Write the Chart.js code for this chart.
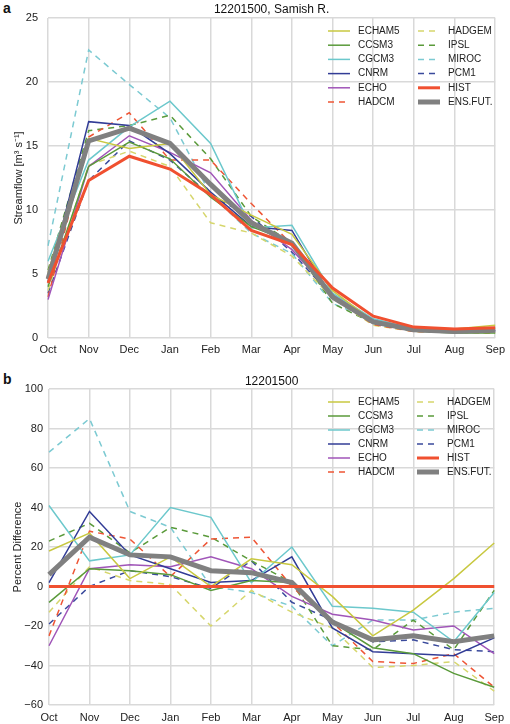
<!DOCTYPE html>
<html>
<head>
<meta charset="utf-8">
<script src="https://cdn.jsdelivr.net/npm/chart.js@4"></script>
<style>
  body { margin: 0; background: #fff; width: 510px; height: 724px; position: relative; overflow: hidden; }
  canvas { position: absolute; left: 0; }
  .tag { position: absolute; font: bold 14px "Liberation Sans", Arial, sans-serif; color: #111; }
</style>
</head>
<body>
<div class="tag" style="left:3px;top:0px">a</div>
<div class="tag" style="left:3px;top:371px">b</div>
<canvas id="flow" width="510" height="360" style="top:0"></canvas>
<canvas id="pct" width="510" height="362" style="top:362px"></canvas>
<script>
const months = ["Oct", "Nov", "Dec", "Jan", "Feb", "Mar", "Apr", "May", "Jun", "Jul", "Aug", "Sep"];
const models = ["ECHAM5", "CCSM3", "CGCM3", "CNRM", "ECHO", "HADCM", "HADGEM", "IPSL", "MIROC", "PCM1", "HIST", "ENS.FUT."];

// streamflow, m3/s (panel a)
const flowECHAM5 = [5.1, 15.6, 14.8, 15.2, 11.2, 9.6, 8.1, 3.7, 1.3, 0.75, 0.7, 1.0];
const flowCCSM3  = [4.0, 13.4, 15.3, 14.0, 11.0, 8.7, 7.5, 3.2, 1.2, 0.55, 0.4, 0.4];
const flowCGCM3  = [6.0, 13.9, 16.5, 18.5, 15.2, 8.6, 8.8, 3.5, 1.5, 0.75, 0.5, 0.8];
const flowCNRM   = [4.4, 16.9, 16.6, 14.4, 11.4, 8.7, 8.4, 3.1, 1.15, 0.55, 0.45, 0.6];
const flowECHO   = [3.0, 13.4, 15.8, 14.5, 12.9, 9.2, 6.9, 3.4, 1.4, 0.65, 0.55, 0.55];
const flowHADCM  = [3.2, 15.7, 17.6, 13.9, 13.9, 10.5, 7.3, 3.2, 1.05, 0.5, 0.45, 0.4];
const flowHADGEM = [3.7, 13.5, 14.6, 13.4, 9.0, 8.2, 6.4, 3.1, 1.0, 0.5, 0.45, 0.4];
const flowIPSL   = [5.3, 16.2, 16.6, 17.4, 14.0, 9.5, 7.4, 2.7, 1.15, 0.7, 0.45, 0.8];
const flowMIROC  = [7.2, 22.5, 19.8, 17.2, 11.2, 8.2, 6.6, 2.7, 1.4, 0.7, 0.6, 0.7];
const flowPCM1   = [3.5, 12.3, 15.4, 13.9, 11.1, 9.5, 6.7, 3.2, 1.2, 0.6, 0.5, 0.55];
const flowHIST   = [4.3, 12.3, 14.2, 13.2, 11.2, 8.4, 7.3, 3.9, 1.7, 0.85, 0.7, 0.8];
const flowENS    = [4.6, 15.4, 16.4, 15.2, 12.0, 9.0, 7.4, 3.2, 1.25, 0.65, 0.5, 0.6];

// percent difference from HIST (panel b)
const pctECHAM5 = [18, 27, 4, 15, 0, 14, 11, -5, -25, -12, 4, 22];
const pctCCSM3  = [-8, 9, 8, 6, -2, 3, 2, -18, -31, -34, -44, -51];
const pctCGCM3  = [41, 13, 16, 40, 35, 2, 20, -10, -11, -13, -28, -3];
const pctCNRM   = [2, 38, 16, 9, 2, 3, 15, -21, -33, -34, -35, -26];
const pctECHO   = [-30, 9, 11, 10, 15, 9, -5, -14, -17, -22, -20, -34];
const pctHADCM  = [-25, 28, 24, 5, 24, 25, 0, -18, -38, -39, -34, -51];
const pctHADGEM = [-13, 10, 3, 1, -20, -2, -13, -21, -41, -40, -38, -53];
const pctIPSL   = [23, 32, 17, 30, 25, 13, 2, -30, -32, -17, -32, -2];
const pctMIROC  = [68, 85, 38, 30, 0, -3, -10, -30, -17, -17, -13, -11];
const pctPCM1   = [-19, 0, 8, 5, -1, 13, -8, -17, -28, -27, -32, -33];
const pctHIST   = [0, 0, 0, 0, 0, 0, 0, 0, 0, 0, 0, 0];
const pctENS    = [6, 25, 16, 15, 8, 7, 2, -18, -27, -25, -28, -25];

const styles = [
  { color: "#c8c840", width: 1.5, dash: [] },
  { color: "#5a9a3a", width: 1.5, dash: [] },
  { color: "#6cc8cc", width: 1.5, dash: [] },
  { color: "#323c96", width: 1.5, dash: [] },
  { color: "#a055b8", width: 1.5, dash: [] },
  { color: "#ee5535", width: 1.5, dash: [6, 5] },
  { color: "#d6d66c", width: 1.5, dash: [6, 5] },
  { color: "#5a9a3a", width: 1.5, dash: [6, 5] },
  { color: "#7ccad2", width: 1.5, dash: [6, 5] },
  { color: "#3a4a9c", width: 1.5, dash: [6, 5] },
  { color: "#f05030", width: 3, dash: [] },
  { color: "#808080", width: 5, dash: [] },
];

const FONT = "'Liberation Sans', Arial, sans-serif";
Chart.defaults.font.family = FONT;
Chart.defaults.color = "#222";

const gridLegend = {
  id: "gridLegend",
  afterDraw(chart, args, opts) {
    const ctx = chart.ctx;
    ctx.save();
    chart.data.datasets.forEach((ds, i) => {
      const x = opts.x[i < 6 ? 0 : 1];
      const y = opts.y0 + (i % 6) * opts.dy;
      ctx.strokeStyle = ds.borderColor;
      ctx.lineWidth = ds.borderWidth;
      ctx.setLineDash(ds.borderDash);
      ctx.beginPath();
      ctx.moveTo(x, y);
      ctx.lineTo(x + 22, y);
      ctx.stroke();
      ctx.setLineDash([]);
      ctx.fillStyle = "#222";
      ctx.font = "10px " + FONT;
      ctx.textBaseline = "middle";
      ctx.fillText(ds.label, x + 30, y);
    });
    ctx.restore();
  },
};

function makeDatasets(series) {
  return series.map((data, i) => ({
    label: models[i],
    data: data,
    borderColor: styles[i].color,
    borderWidth: styles[i].width,
    borderDash: styles[i].dash,
    pointRadius: 0,
    tension: 0,
    fill: false,
    order: i === 10 ? 0 : i === 11 ? 1 : 2,
  }));
}

function makeChart(id, cfg) {
  new Chart(document.getElementById(id), {
    type: "line",
    data: { labels: months, datasets: makeDatasets(cfg.series) },
    options: {
      responsive: false,
      animation: false,
      layout: { padding: { left: 0, right: cfg.padRight, top: 0, bottom: 0 } },
      plugins: {
        legend: { display: false },
        tooltip: { enabled: false },
        title: {
          display: true,
          text: cfg.title,
          fullSize: false,
          font: { size: 12, weight: "normal" },
          color: "#111",
          padding: cfg.titlePad,
        },
        gridLegend: cfg.legend,
      },
      scales: {
        x: {
          offset: false,
          grid: { color: "#d9d9d9", lineWidth: 1.5, drawTicks: false },
          border: { display: false },
          ticks: { font: { size: 11 }, padding: cfg.xPad, maxRotation: 0, autoSkip: false },
          afterFit: (s) => { s.height = cfg.xHeight; },
        },
        y: {
          min: cfg.min,
          max: cfg.max,
          grid: { color: "#d9d9d9", lineWidth: 1.5, drawTicks: false },
          border: { display: false },
          ticks: {
            stepSize: cfg.step,
            font: { size: 11 },
            padding: cfg.yPad,
            callback: (v) => String(v).replace("-", "\u2212"),
          },
          title: {
            display: true,
            text: cfg.yTitle,
            font: { size: 11 },
            color: "#222",
            padding: { top: cfg.yTitlePad, bottom: 0 },
          },
          afterFit: (s) => { s.width = cfg.yWidth; },
        },
      },
    },
    plugins: [gridLegend],
  });
}

makeChart("flow", {
  series: [flowECHAM5, flowCCSM3, flowCGCM3, flowCNRM, flowECHO, flowHADCM,
           flowHADGEM, flowIPSL, flowMIROC, flowPCM1, flowHIST, flowENS],
  title: "12201500, Samish R.",
  titlePad: { top: 2, bottom: 1.6 },
  yTitle: "Streamflow [m\u00b3 s\u207b\u00b9]",
  yTitlePad: 12,
  min: 0, max: 25, step: 5,
  yWidth: 48, yPad: 10, padRight: 11,
  xHeight: 22, xPad: 5,
  legend: { x: [328, 418], y0: 31, dy: 14.2 },
});

makeChart("pct", {
  series: [pctECHAM5, pctCCSM3, pctCGCM3, pctCNRM, pctECHO, pctHADCM,
           pctHADGEM, pctIPSL, pctMIROC, pctPCM1, pctHIST, pctENS],
  title: "12201500",
  titlePad: { top: 12, bottom: 0.6 },
  yTitle: "Percent Difference",
  yTitlePad: 11,
  min: -60, max: 100, step: 20,
  yWidth: 49, yPad: 6, padRight: 13,
  xHeight: 19, xPad: 6,
  legend: { x: [328, 417], y0: 40, dy: 14 },
});
</script>
</body>
</html>
